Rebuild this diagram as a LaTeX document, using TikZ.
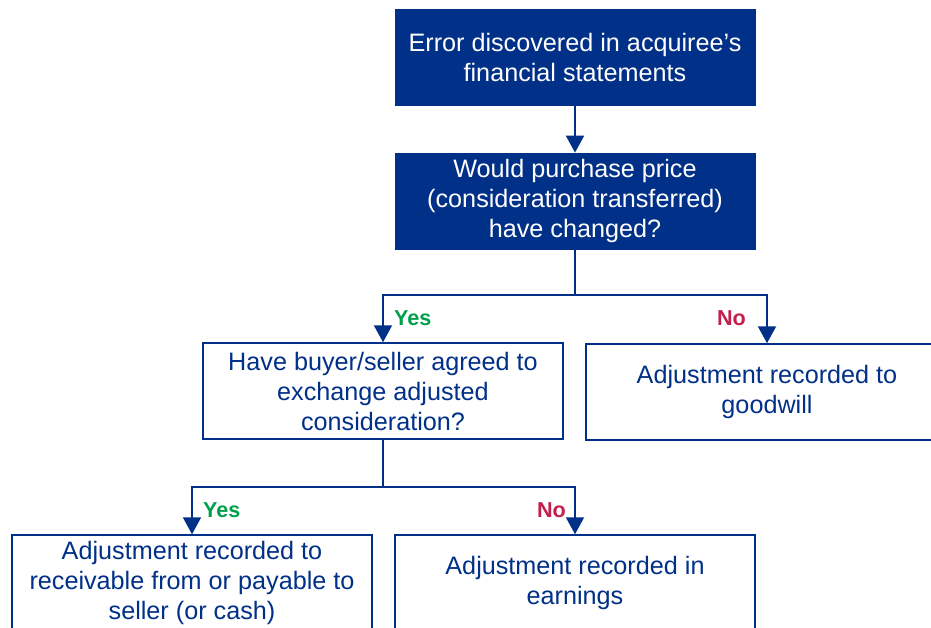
\documentclass[tikz,border=0pt]{standalone}
\usepackage{fontspec}
\setmainfont{Liberation Sans}
\usetikzlibrary{arrows.meta}
\definecolor{kblue}{HTML}{003087}
\definecolor{kgreen}{HTML}{00A04B}
\definecolor{kred}{HTML}{C41E4A}

\begin{document}
\begin{tikzpicture}[x=0.5pt, y=-0.5pt,
		darkbox/.style={fill=kblue, draw=kblue, text=white, minimum width=180pt, minimum height=48pt,
			inner sep=0pt, align=center, font=\fontsize{12.6}{15}\selectfont},
		lightbox/.style={darkbox, fill=white, text=kblue, line width=0.75pt},
		arr/.style={kblue, line width=1pt, -{Triangle[width=9pt,length=8.5pt]}},
		yes/.style={anchor=west, text=kgreen, font=\fontsize{10.8}{12}\selectfont\bfseries},
		no/.style={yes, text=kred}]
		%%%%% START %%%%%
		\useasboundingbox (0, 0) rectangle (931, 627);
		\clip (0, 0) rectangle (931, 627);
		
		\node[darkbox] (error) at (575, 57) {Error discovered in acquiree's\\financial statements};
		\node[darkbox] (price) at (575, 201) {Would purchase price\\(consideration transferred)\\have changed?};
		
		\node[lightbox] (agreed) at (383, 391) {Have buyer/seller agreed to\\exchange adjusted\\consideration?};
		\node[lightbox, minimum width=181pt] (goodwill) at (767, 392) {Adjustment recorded to\\goodwill};
		
		\node[lightbox] (payable) at (192, 583) {Adjustment recorded to\\receivable from or payable to\\seller (or cash)};
		\node[lightbox] (earnings) at (575, 583) {Adjustment recorded in\\earnings};
		
		\coordinate (split1) at (575, 295);
		\coordinate (split2) at (383, 487);
		
		\draw[arr] (error) -- (price);
		\draw[arr] (price) -- (split1) -| (agreed);
		\draw[arr] (split1) -| (goodwill);
		\draw[arr] (agreed) -- (split2) -| (payable);
		\draw[arr] (split2) -| (earnings);
		
		\node[yes] (yes1) at (387, 318) {Yes};
		\node[no] (no1) at (710, 318) {No};
		\node[yes] (yes2) at (196, 510) {Yes};
		\node[no] (no2) at (530, 510) {No};
		%%%%% END %%%%%
	\end{tikzpicture}
\end{document}
